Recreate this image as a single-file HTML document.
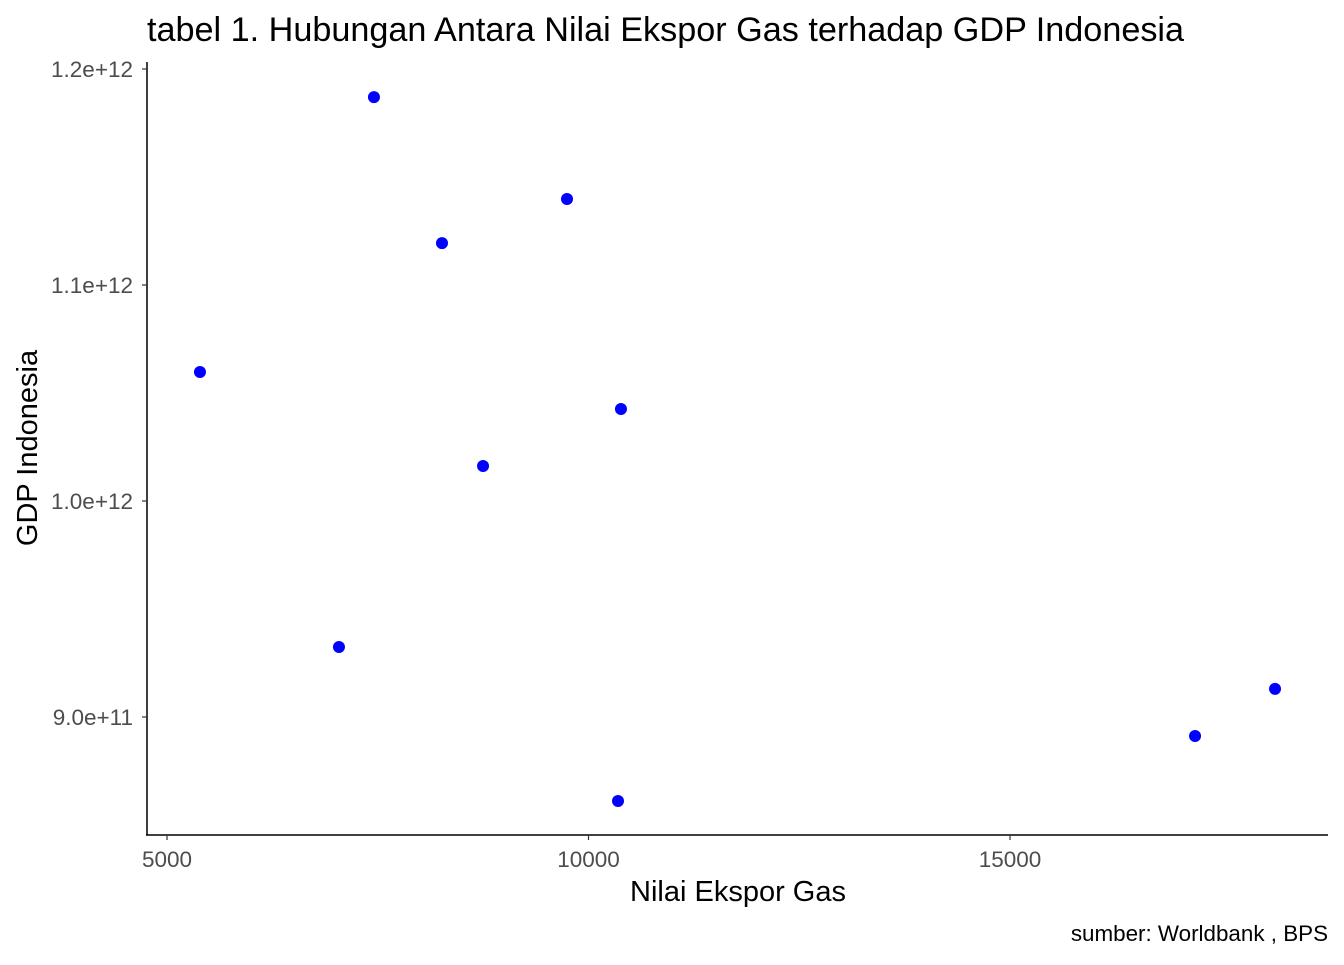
<!DOCTYPE html>
<html><head><meta charset="utf-8"><style>
body{margin:0;background:#fff;font-family:"Liberation Sans",sans-serif;}
svg text{font-family:"Liberation Sans",sans-serif;}
</style></head><body>
<svg id="chart" width="1344" height="960">
<text x="147" y="41" font-size="34.2" fill="#000">tabel 1. Hubungan Antara Nilai Ekspor Gas terhadap GDP Indonesia</text>
<g id="axes"></g>
<g id="points"></g>
<text x="738" y="901" font-size="29" text-anchor="middle" fill="#000">Nilai Ekspor Gas</text>
<text transform="translate(37,448) rotate(-90)" font-size="29" text-anchor="middle" fill="#000">GDP Indonesia</text>
<text x="1328" y="941" font-size="22.4" text-anchor="end" fill="#000">sumber: Worldbank , BPS</text>
</svg>
<script>
const exportGas=[7455,9745,8262,5391,10385,8749,7040,18144,17195,10350];
const gdp=[1.187e12,1.1398e12,1.1194e12,1.0597e12,1.0426e12,1.0162e12,9.324e11,9.130e11,8.912e11,8.611e11];
const xTicks=[5000,10000,15000];
const yTicks=[9.0e11,1.0e12,1.1e12,1.2e12];
const yTickLabels=["9.0e+11","1.0e+12","1.1e+12","1.2e+12"];
const ns="http://www.w3.org/2000/svg";
function sx(v){return 167+(v-5000)*(421.5/5000);}
function sy(v){return 717-(v-9e11)*(216/1e11);}
const axes=document.getElementById('axes');
function mk(tag,attrs,parent){const e=document.createElementNS(ns,tag);for(const k in attrs)e.setAttribute(k,attrs[k]);parent.appendChild(e);return e;}
const yl=mk('line',{x1:147,y1:62,x2:147,y2:835.5,stroke:'#000','stroke-width':1.5},axes);


const xl=mk('line',{x1:146,y1:835,x2:1328,y2:835,stroke:'#000','stroke-width':1.5},axes);


xTicks.forEach(t=>{
 const x=sx(t);
 const tk=mk('line',{x1:x,y1:835,x2:x,y2:840,stroke:'#333','stroke-width':1.2},axes);
 
 
 const tx=mk('text',{x:x,y:867,'font-size':22.5,'text-anchor':'middle',fill:'#4d4d4d'},axes);
 tx.textContent=t;
 
 
});
yTicks.forEach((t,i)=>{
 const y=sy(t);
 const tk=mk('line',{x1:142,y1:y,x2:147,y2:y,stroke:'#333','stroke-width':1.2},axes);
 
 
 const tx=mk('text',{x:133,y:y+8,'font-size':22.5,'text-anchor':'end',fill:'#4d4d4d'},axes);
 tx.textContent=yTickLabels[i];
 
 
});
const pts=document.getElementById('points');
exportGas.forEach((v,i)=>{
 const c=mk('circle',{cx:sx(v),cy:sy(gdp[i]),r:6,fill:'#0000ff'},pts);
 
 
});
</script>
</body></html>
